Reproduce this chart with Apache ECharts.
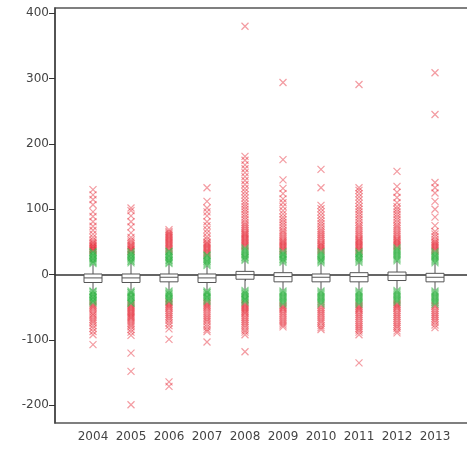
<!DOCTYPE html>
<html>
<head>
<meta charset="utf-8">
<script src="https://cdn.jsdelivr.net/npm/echarts@6/dist/echarts.min.js"></script>
<style>html,body{margin:0;padding:0;background:#fff;}#c{width:467px;height:457px;}</style>
</head>
<body>
<div id="c"></div>
<script>
const categories = ['', '2004', '2005', '2006', '2007', '2008', '2009', '2010', '2011', '2012', '2013', ''];
// [whiskerLow, Q1, median, Q3, whiskerHigh]
const boxData = [
  [-24, -12, -5, 1, 16],
  [-24, -12, -5, 1, 18],
  [-24, -11, -4, 1, 17],
  [-24, -12, -5, 1, 14],
  [-23, -7, 0, 5, 22],
  [-24, -11, -3, 3, 19],
  [-24, -11, -4, 1, 18],
  [-24, -11, -3, 3, 19],
  [-23, -9, -1, 4, 21],
  [-24, -11, -4, 2, 18]
];
const green2004 = [17, 19, 20, 22, 24, 25, 27, 29, 30, 32, 34, 35, -25, -26, -28, -30, -31, -33, -35, -36, -38, -40, -41, -43];
const red2004 = [37, 38, 40, 41, 43, 44, 46, 48, 50, 53, 57, 62, 68, 74, 81, 89, 96, 107, 115, 122, 130, -45, -47, -49, -51, -54, -57, -60, -62, -65, -68, -71, -74, -78, -82, -87, -92, -107];
const green2005 = [18, 20, 21, 23, 25, 26, 28, 30, 31, 33, 35, -25, -27, -28, -30, -32, -34, -35, -37, -39, -41, -43, -44];
const red2005 = [36, 38, 39, 41, 43, 45, 47, 50, 53, 57, 64, 73, 81, 90, 98, 102, -46, -48, -50, -52, -54, -56, -58, -60, -62, -64, -66, -68, -71, -74, -77, -80, -84, -88, -93, -120, -148, -199];
const green2006 = [17, 19, 21, 22, 24, 26, 28, 29, 31, 33, 35, 36, -25, -27, -29, -30, -32, -34, -36, -37, -39, -41];
const red2006 = [38, 40, 42, 44, 46, 48, 50, 52, 54, 56, 58, 60, 62, 64, 66, 69, -42, -44, -46, -48, -50, -52, -55, -58, -61, -64, -67, -70, -74, -78, -83, -99, -164, -171];
const green2007 = [14, 16, 18, 20, 21, 23, 25, 27, 29, 30, -25, -27, -28, -30, -32, -34, -35, -37, -39, -41];
const red2007 = [32, 34, 36, 38, 40, 42, 44, 46, 48, 50, 54, 58, 64, 69, 75, 81, 90, 96, 102, 112, 133, -43, -45, -47, -49, -51, -54, -57, -60, -63, -66, -69, -72, -76, -80, -84, -87, -103];
const green2008 = [22, 24, 26, 27, 29, 31, 33, 35, 37, 39, 41, -24, -26, -28, -29, -31, -33, -35, -37, -38, -40, -42];
const red2008 = [43, 45, 47, 49, 51, 53, 55, 57, 59, 61, 63, 65, 68, 71, 74, 77, 80, 84, 88, 92, 96, 100, 104, 108, 112, 117, 122, 127, 132, 138, 144, 150, 156, 162, 168, 175, 181, 380, -44, -46, -48, -50, -52, -54, -56, -58, -60, -63, -66, -69, -72, -75, -78, -81, -85, -88, -92, -118];
const green2009 = [19, 21, 23, 24, 26, 28, 30, 31, 33, 35, -25, -27, -29, -31, -33, -35, -37, -39, -41, -43, -45];
const red2009 = [37, 39, 41, 43, 45, 47, 49, 51, 53, 56, 59, 62, 65, 68, 72, 76, 80, 84, 88, 93, 98, 104, 110, 116, 124, 132, 145, 176, 294, -47, -49, -51, -53, -56, -59, -62, -65, -68, -71, -74, -77, -80];
const green2010 = [18, 20, 22, 23, 25, 27, 29, 31, 33, 35, -25, -27, -29, -31, -33, -35, -37, -39, -41, -43, -45];
const red2010 = [37, 39, 41, 43, 45, 47, 49, 52, 55, 58, 61, 64, 67, 70, 74, 78, 82, 86, 91, 96, 101, 106, 133, 161, -47, -50, -53, -56, -59, -62, -65, -68, -71, -74, -78, -81, -84];
const green2011 = [19, 21, 23, 25, 26, 28, 30, 32, 33, 35, -25, -27, -29, -31, -33, -35, -37, -39, -41, -43, -45];
const red2011 = [37, 39, 41, 43, 45, 47, 49, 51, 53, 55, 58, 61, 64, 67, 70, 73, 76, 80, 84, 88, 92, 96, 100, 104, 109, 114, 119, 124, 129, 133, 291, -47, -49, -51, -53, -55, -58, -61, -64, -67, -70, -73, -76, -79, -82, -85, -88, -92, -135];
const green2012 = [21, 23, 25, 27, 29, 31, 33, 35, 37, 39, 41, -24, -26, -28, -30, -32, -34, -36, -38, -40, -42];
const red2012 = [43, 45, 47, 49, 51, 53, 55, 58, 61, 64, 67, 70, 73, 76, 80, 84, 88, 92, 96, 100, 104, 110, 118, 126, 135, 158, -44, -46, -48, -50, -52, -55, -58, -61, -64, -67, -70, -73, -76, -79, -82, -86, -89];
const green2013 = [18, 20, 22, 24, 26, 28, 29, 31, 33, 35, -25, -27, -29, -31, -33, -35, -37, -39, -41, -43, -45];
const red2013 = [37, 39, 41, 43, 45, 47, 49, 51, 54, 58, 62, 66, 75, 88, 100, 112, 125, 133, 141, 245, 309, -47, -49, -52, -55, -58, -61, -64, -67, -70, -73, -77, -81];

const greens = [green2004, green2005, green2006, green2007, green2008, green2009, green2010, green2011, green2012, green2013];
const reds = [red2004, red2005, red2006, red2007, red2008, red2009, red2010, red2011, red2012, red2013];

function toPoints(lists) {
  const out = [];
  lists.forEach((arr, i) => arr.forEach(v => out.push([i + 1, v])));
  return out;
}

const chart = echarts.init(document.getElementById('c'), null, {renderer: 'canvas'});
const xSym = 'path://M0,0L10,10M10,0L0,10';
const font = 'DejaVu Sans';
chart.setOption({
  animation: false,
  grid: {left: 55, right: -6, top: 8, bottom: 34, outerBoundsMode: 'none', containLabel: false, show: true, borderColor: '#555', borderWidth: 1.5, backgroundColor: '#fff'},
  xAxis: {
    type: 'category',
    data: categories,
    boundaryGap: false,
    axisLine: {lineStyle: {color: '#333', width: 1.5}},
    axisTick: {interval: (i) => i > 0 && i < 11, length: 6, lineStyle: {color: '#333'}},
    axisLabel: {interval: 0, color: '#444', fontFamily: font, fontSize: 12, margin: 8},
    splitLine: {show: false}
  },
  yAxis: {
    type: 'value',
    min: -227,
    max: 408,
    splitNumber: 6,
    axisLine: {show: true, lineStyle: {color: '#444', width: 1.5}},
    axisTick: {show: true, length: 6, lineStyle: {color: '#333'}},
    axisLabel: {color: '#444', fontFamily: font, fontSize: 12, margin: 6, showMinLabel: false, showMaxLabel: false},
    splitLine: {show: false}
  },
  series: [
    {
      type: 'scatter',
      data: toPoints(reds),
      symbol: xSym,
      symbolSize: 7,
      silent: true,
      itemStyle: {color: 'rgba(0,0,0,0)', borderColor: 'rgba(228,28,40,0.55)', borderWidth: 1.2}
    },
    {
      type: 'scatter',
      data: toPoints(greens),
      symbol: xSym,
      symbolSize: 7,
      silent: true,
      itemStyle: {color: 'rgba(0,0,0,0)', borderColor: 'rgba(40,175,60,0.65)', borderWidth: 1.2}
    },
    {
      type: 'custom',
      silent: true,
      data: boxData.map((b, i) => [i + 1].concat(b)),
      renderItem: function (params, api) {
        const x = api.value(0);
        const pLow = api.coord([x, api.value(1)]);
        const pQ1 = api.coord([x, api.value(2)]);
        const pMed = api.coord([x, api.value(3)]);
        const pQ3 = api.coord([x, api.value(4)]);
        const pHigh = api.coord([x, api.value(5)]);
        const hw = 9;
        const st = {stroke: '#555', lineWidth: 1, fill: null};
        return {
          type: 'group',
          children: [
            {type: 'line', shape: {x1: pLow[0], y1: pLow[1], x2: pQ1[0], y2: pQ1[1]}, style: st},
            {type: 'line', shape: {x1: pQ3[0], y1: pQ3[1], x2: pHigh[0], y2: pHigh[1]}, style: st},
            {type: 'rect', shape: {x: pQ3[0] - hw, y: pQ3[1], width: hw * 2, height: pQ1[1] - pQ3[1]}, style: {stroke: '#555', lineWidth: 1, fill: '#fff'}},
            {type: 'line', shape: {x1: pMed[0] - hw, y1: pMed[1], x2: pMed[0] + hw, y2: pMed[1]}, style: st}
          ]
        };
      }
    }
  ]
});
</script>
</body>
</html>
